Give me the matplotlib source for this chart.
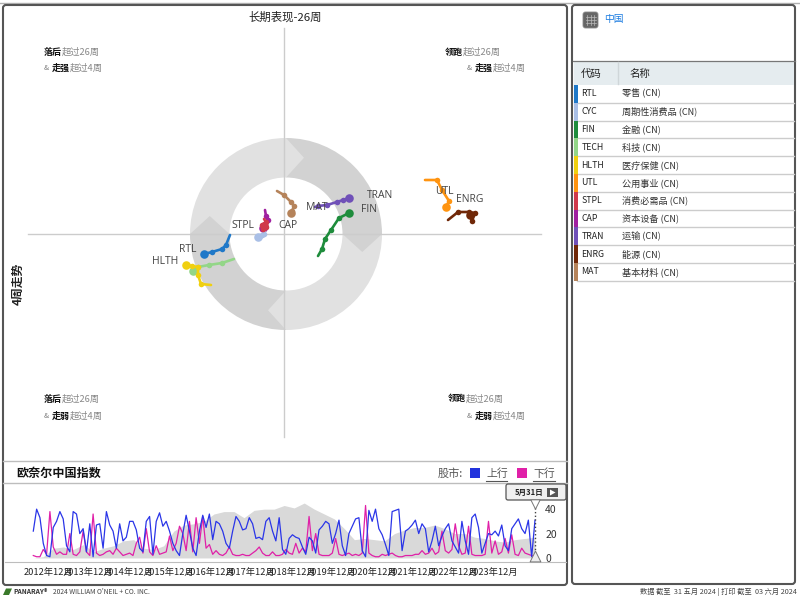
import numpy as np
import matplotlib
matplotlib.use("Agg")
import matplotlib.pyplot as plt
from matplotlib.patches import FancyBboxPatch, Rectangle, Wedge, Polygon

plt.rcParams['font.family'] = ['Noto Sans CJK SC', 'DejaVu Sans']

W, H = 800, 599

# ---- Rotation chart data: x = 26-week performance, y = 4-week momentum (tail -> head)
tracks = {
    'RTL':  ([-54, -58, -62, -72, -80], [-1, -11, -15, -18, -20]),
    'CYC':  ([-19, -20, -22, -24, -26], [3, 0, -1, -2, -3]),
    'FIN':  ([34, 38, 41, 47, 55, 65], [-22, -15, -5, 4, 16, 21]),
    'TECH': ([-50, -62, -75, -86, -91], [-25, -29, -31, -33, -37]),
    'HLTH': ([-73, -83, -86, -86, -92, -98], [-51, -50, -41, -33, -32, -31]),
    'UTL':  ([141, 153, 158, 165, 162], [54, 54, 44, 33, 27]),
    'STPL': ([-20, -18, -22, -18, -21, -20], [15, 12, 9, 7, 5, 8]),
    'CAP':  ([-19, -18, -16, -19, -21], [24, 18, 14, 10, 6]),
    'TRAN': ([31, 34, 43, 53, 59, 65], [27, 28, 29, 32, 34, 36]),
    'ENRG': ([164, 174, 185, 191, 188, 186], [14, 22, 22, 21, 13, 19]),
    'MAT':  ([-7, 0, 7, 10, 8, 7], [43, 39, 32, 28, 23, 21]),
}
colors = {
    'RTL': '#1f78c8', 'CYC': '#a9bfe6', 'FIN': '#1e8c3c', 'TECH': '#93d688',
    'HLTH': '#f0d010', 'UTL': '#ff9410', 'STPL': '#d0394a', 'CAP': '#a020a0',
    'TRAN': '#7050b8', 'ENRG': '#702808', 'MAT': '#b5835a',
}
names = ['零售 (CN)', '周期性消费品 (CN)', '金融 (CN)', '科技 (CN)', '医疗保健 (CN)', '公用事业 (CN)',
         '消费必需品 (CN)', '资本设备 (CN)', '运输 (CN)', '能源 (CN)', '基本材料 (CN)']
codes = ['RTL', 'CYC', 'FIN', 'TECH', 'HLTH', 'UTL', 'STPL', 'CAP', 'TRAN', 'ENRG', 'MAT']
label_text = ['RTL', 'HLTH', 'STPL', 'CAP', 'MAT', 'FIN', 'TRAN', 'UTL', 'ENRG']
label_x = [-96, -119, -41, 4, 33, 85, 96, 160, 186]
label_y = [-16, -28, 8, 8, 26, 25, 39, 42, 34]

# ---- Market pulse data
blue = [22, 40, 33, 12, 2, 1, 25, 30, 38, 32, 10, 5, 38, 36, 20, 24, 5, 28, 1, 27, 28, 8, 38, 27, 22, 8,
        28, 14, 17, 30, 30, 23, 8, 5, 30, 34, 3, 30, 37, 26, 30, 22, 12, 6, 2, 20, 35, 22, 8, 2, 22, 35,
        25, 36, 15, 30, 28, 22, 12, 8, 22, 34, 30, 23, 24, 33, 28, 16, 17, 15, 30, 33, 22, 14, 33, 7, 3, 16,
        19, 17, 16, 9, 3, 17, 14, 4, 23, 26, 30, 28, 12, 20, 31, 10, 2, 20, 26, 32, 33, 6, 1, 39, 30, 40,
        24, 19, 11, 2, 38, 39, 40, 6, 22, 24, 27, 31, 20, 28, 24, 5, 14, 26, 10, 18, 24, 28, 14, 9, 4, 30,
        14, 3, 33, 36, 25, 4, 12, 20, 19, 22, 18, 27, 10, 6, 24, 28, 32, 24, 20, 31, 1, 31]
pink = [2, 1, 1, 7, 3, 38, 9, 3, 5, 3, 3, 20, 3, 2, 5, 22, 5, 2, 36, 4, 2, 3, 5, 6, 3, 8,
        5, 2, 3, 4, 2, 12, 17, 4, 24, 5, 2, 10, 3, 4, 5, 18, 6, 12, 26, 20, 6, 30, 5, 33, 12, 34,
        8, 11, 3, 6, 3, 2, 4, 9, 3, 2, 2, 3, 2, 2, 4, 6, 9, 4, 2, 2, 5, 2, 2, 3, 7, 4,
        3, 12, 4, 8, 5, 34, 6, 20, 3, 2, 2, 2, 4, 16, 3, 2, 3, 4, 2, 3, 2, 4, 43, 4, 2, 1,
        1, 3, 2, 3, 4, 2, 1, 1, 2, 2, 2, 3, 3, 6, 3, 4, 8, 3, 5, 22, 6, 4, 7, 28, 10, 3,
        4, 26, 3, 2, 2, 2, 3, 30, 4, 14, 3, 5, 16, 4, 19, 3, 2, 8, 4, 3, 2, 1]
gray = [0, 1, 8, 9, 7, 11, 5, 8, 10, 14, 15, 8, 7, 10, 22, 27, 28, 30, 36, 38, 38, 33, 39, 40, 40, 43,
        41, 45, 40, 36, 32, 24, 15, 16, 15, 14, 20, 23, 25, 25, 27, 24, 20, 20, 17, 16, 14, 13, 15, 16, 17]
year_ticks = list(range(2012, 2024))


def px_axes(fig, x0, y0, x1, y1):
    return fig.add_axes([x0 / W, 1 - y1 / H, (x1 - x0) / W, (y1 - y0) / H])


fig = plt.figure(figsize=(8, 5.99), dpi=100, facecolor='white')

# ---- Background layer in pixel coordinates
bg = fig.add_axes([0, 0, 1, 1])
bg.set_xlim(0, W)
bg.set_ylim(H, 0)
bg.axis('off')
for x0, y0, x1, y1 in [(3, 5, 567, 585), (572, 5, 795, 584)]:
    bg.add_patch(FancyBboxPatch((x0, y0), x1 - x0, y1 - y0, boxstyle='round,pad=0,rounding_size=3',
                                fc='white', ec='#555555', lw=1.5, zorder=1))
bg.plot([0, 800], [2.5, 2.5], color='#b0b0b0', lw=1, zorder=0)
bg.plot([3, 567], [461, 461], color='#bdbdbd', lw=1, zorder=2)
bg.plot([3, 567], [483, 483], color='#bdbdbd', lw=1, zorder=2)

# Titles
bg.text(285, 17, '长期表现-26周', ha='center', va='center', fontsize=8.2, fontweight='medium', color='#222222', zorder=3)
bg.text(16, 473, '欧奈尔中国指数', ha='left', va='center', fontsize=8.7, fontweight='bold', color='#111111', zorder=3)
bg.text(18, 284, '4周走势', rotation=90, ha='center', va='center', fontsize=8.5, fontweight='bold', color='#222222', zorder=3)

# Pulse legend
bg.text(438, 474, '股市:', ha='left', va='center', fontsize=8, color='#555555', zorder=3)
bg.add_patch(Rectangle((470, 468), 10, 10, fc='#2233dd', ec='none', zorder=3))
bg.text(486, 474, '上行', ha='left', va='center', fontsize=7.8, color='#555555', zorder=3)
bg.plot([486, 507], [481, 481], color='#555555', lw=0.8, zorder=3)
bg.add_patch(Rectangle((517, 468), 10, 10, fc='#e020a8', ec='none', zorder=3))
bg.text(533, 474, '下行', ha='left', va='center', fontsize=7.8, color='#555555', zorder=3)
bg.plot([533, 555], [481, 481], color='#555555', lw=0.8, zorder=3)

# Right panel
bg.add_patch(FancyBboxPatch((583, 12), 15, 16, boxstyle='round,pad=0,rounding_size=2.5', fc='#666666', ec='#888888', lw=0.6, zorder=3))
for gx in (587, 590.5, 594):
    bg.plot([gx, gx], [15, 25], color='#bbbbbb', lw=0.5, zorder=4)
for gy in (17, 20, 23):
    bg.plot([585.5, 595.5], [gy, gy], color='#bbbbbb', lw=0.5, zorder=4)
bg.text(604, 19, '中国', ha='left', va='center', fontsize=7, color='#1a7be0', zorder=3)
bg.add_patch(Rectangle((573.5, 61), 220.5, 24, fc='#e5ecef', ec='none', zorder=2))
bg.plot([573, 795], [60.5, 60.5], color='#777777', lw=0.9, zorder=3)
bg.plot([618, 618], [62, 84], color='#cfd6d9', lw=1, zorder=3)
bg.text(581, 73.5, '代码', ha='left', va='center', fontsize=7.5, color='#222222', zorder=3)
bg.text(630, 73.5, '名称', ha='left', va='center', fontsize=7.5, color='#222222', zorder=3)
row_h = 17.8
for i, (code, name) in enumerate(zip(codes, names)):
    top = 85 + i * row_h
    bg.add_patch(Rectangle((574, top), 3.5, row_h, fc=colors[code], ec='none', zorder=3))
    bg.plot([577, 794], [top + row_h, top + row_h], color='#cccccc', lw=1, zorder=2)
    bg.text(581.5, top + row_h / 2, code, ha='left', va='center', fontsize=6.3, color='#222222', zorder=3)
    bg.text(622, top + row_h / 2, name, ha='left', va='center', fontsize=6.6, color='#333333', zorder=3)

# Footer
bg.add_patch(Polygon([[3, 595], [6, 588.5], [12, 588.5], [9, 595]], closed=True, fc='#3a7a2a', ec='none', zorder=3))
bg.text(13, 592, 'PANARAY®', ha='left', va='center', fontsize=4.8, style='italic', fontweight='bold', color='#333333', zorder=3)
bg.text(53, 592, "2024 WILLIAM O'NEIL + CO. INC.", ha='left', va='center', fontsize=4.8, color='#444444', zorder=3)
bg.text(797, 592, '数据 截至  31 五月 2024 | 打印 截至  03 六月 2024', ha='right', va='center', fontsize=5.2, color='#444444', zorder=3)

# ---- Rotation chart
ax = px_axes(fig, 5, 26, 565, 459)
ax.patch.set_alpha(0)
ax.set_xlim(5 - 284, 565 - 284)
ax.set_ylim(234 - 459, 234 - 26)
ax.axis('off')

cx, cy, r_out, r_in = 2, 0, 96, 56.5
light, dark = '#e1e1e1', '#d2d2d2'
# start angle, end angle, colour; each sector runs clockwise and ends in a chevron
sectors = [(180, 90, light), (90, 0, dark), (0, -90, light), (-90, -180, dark)]
for a1, a0, col in sectors:
    ax.add_patch(Wedge((cx, cy), r_out, a0, a1, width=r_out - r_in, fc=col, ec='none', zorder=1))
tip = 18
for a1, a0, col in sectors:
    t = np.deg2rad(a0)
    u = np.array([np.cos(t), np.sin(t)])
    v = np.array([np.sin(t), -np.cos(t)])  # clockwise tangent
    c = np.array([cx, cy])
    ax.add_patch(Polygon([c + u * r_out, c + u * r_in, c + u * (r_in + r_out) / 2 + v * tip], closed=True,
                         fc=col, ec='none', zorder=2))
ax.plot([0, 0], [-203, 206], color='#cccccc', lw=1, zorder=3)
ax.plot([-256, 257], [0, 0], color='#cccccc', lw=1, zorder=3)

draw_order = ['CAP', 'CYC', 'STPL', 'MAT', 'TRAN', 'FIN', 'TECH', 'HLTH', 'RTL', 'UTL', 'ENRG']
for z, code in enumerate(draw_order):
    xs, ys = tracks[code]
    col = colors[code]
    ax.plot(xs, ys, color=col, lw=1.9, solid_capstyle='round', zorder=5 + z)
    ax.scatter(xs[1:-1], ys[1:-1], s=16, color=col, linewidths=0, zorder=5 + z)
    ax.scatter(xs[-1:], ys[-1:], s=38, color=col, linewidths=0, zorder=5 + z)
for t, lx, ly in zip(label_text, label_x, label_y):
    ax.text(lx, ly, t, ha='center', va='center', fontsize=7.5, color='#444444', family=['Open Sans'], zorder=30)

# Quadrant captions
quad = [
    (44, 52, '落后', '超过26周', ''), (44, 68, '走强', '超过4周', '& '),
    (445, 52, '领跑', '超过26周', ''), (467, 68, '走强', '超过4周', '& '),
    (44, 399, '落后', '超过26周', ''), (44, 416, '走弱', '超过4周', '& '),
    (448, 399, '领跑', '超过26周', ''), (467, 416, '走弱', '超过4周', '& '),
]
for qx, qy, strong, rest, pre in quad:
    x = qx
    if pre:
        bg.text(x, qy, '&', ha='left', va='center', fontsize=5.5, color='#777777', zorder=3)
        x += 8
    bg.text(x, qy, strong, ha='left', va='center', fontsize=6.5, fontweight='bold', color='#111111', zorder=3)
    bg.text(x + 18, qy, rest, ha='left', va='center', fontsize=6.7, color='#888888', zorder=3)

# ---- Market pulse chart
px_per_year = 40.5
yr = lambda p: 2012.92 + (p - 48) / px_per_year
pa = px_axes(fig, 5, 484, 566, 562)
pa.patch.set_alpha(0)
pa.set_xlim(yr(5), yr(566))
pa.set_ylim(-3.3, 60.6)
t_blue = np.linspace(yr(33.3), yr(535), len(blue))
t_pink = np.linspace(yr(33.3), yr(535), len(pink))
t_gray = np.linspace(yr(33.3), yr(535), len(gray))
pa.fill_between(t_gray, 0, gray, color='#d9d9d9', lw=0, zorder=1)
pa.plot(t_pink, pink, color='#e020a8', lw=0.9, zorder=2)
pa.plot(t_blue, blue, color='#2a35e8', lw=0.9, zorder=3)
for s in ('top', 'left', 'right'):
    pa.spines[s].set_visible(False)
pa.spines['bottom'].set_color('#bdbdbd')
pa.set_xticks([y + 0.92 for y in year_ticks])
pa.set_xticklabels([f'{y}年12月' for y in year_ticks], fontsize=6.7, color='#222222')
pa.tick_params(axis='x', length=0, pad=4)
pa.yaxis.tick_right()
pa.set_yticks([0, 20, 40])
pa.tick_params(axis='y', length=0, labelsize=7.5, labelcolor='#333333', pad=-15)

# Date cursor
cur = yr(535)
pa.plot([cur, cur], [1, 43], color='#444444', lw=1, ls=':', zorder=4)
pa.scatter([cur], [44], marker='v', s=45, fc='white', ec='#777777', lw=0.7, zorder=5)
pa.scatter([cur], [2], marker='^', s=60, fc='#eeeeee', ec='#777777', lw=0.7, zorder=5)
bg.add_patch(FancyBboxPatch((506, 484), 60, 16, boxstyle='round,pad=0,rounding_size=2', fc='#f0f0f0', ec='#555555', lw=0.9, zorder=6))
bg.text(529, 492.5, '5月31日', ha='center', va='center', fontsize=5.5, fontweight='bold', color='#222222', zorder=7)
bg.add_patch(Rectangle((547, 488), 11, 9, fc='#555555', ec='none', zorder=7))
bg.add_patch(Polygon([[550, 489.5], [550, 495.5], [555.5, 492.5]], closed=True, fc='white', ec='none', zorder=8))

fig.savefig('out.png', dpi=100, facecolor='white')
